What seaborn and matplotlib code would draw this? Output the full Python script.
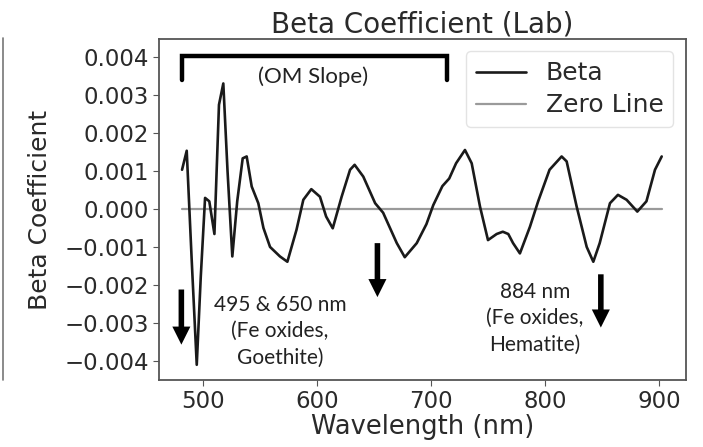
import matplotlib
matplotlib.use("Agg")
import matplotlib.pyplot as plt
from matplotlib.lines import Line2D
import seaborn as sns
import pandas as pd

wavelength = [481.6, 485.7, 490, 494.5, 498, 501.8, 505.5, 510, 514, 517.8, 521.5,
              525.7, 530, 534.8, 538.3, 542.7, 548.5, 553, 558.8, 567.5, 574, 582,
              588, 595, 602.6, 608, 613.8, 621.6, 629, 633, 640.6, 651, 658, 664,
              670, 677, 687.5, 696, 702, 710, 716, 722, 729.8, 735.7, 743, 750,
              757.6, 763, 767.8, 772, 778, 786.8, 794, 804, 814.6, 819, 827.8,
              836.6, 842.4, 848, 857, 864, 871.6, 881, 889, 896.5, 902.4]
beta = [0.00103, 0.00153, -0.0013, -0.0041, -0.0018, 0.00029, 0.00020, -0.00066,
        0.00274, 0.00330, 0.0010, -0.00125, 0.0002, 0.00133, 0.00138, 0.00059,
        0.00015, -0.0005, -0.0010, -0.00125, -0.00139, -0.00055, 0.00024, 0.00052,
        0.00032, -0.0002, -0.00051, 0.00032, 0.00103, 0.00116, 0.00085, 0.00015,
        -0.0001, -0.0005, -0.0009, -0.00127, -0.0009, -0.0004, 0.0001, 0.0006,
        0.0008, 0.0012, 0.00155, 0.0012, 0.00006, -0.00082, -0.00066, -0.0006,
        -0.00066, -0.0009, -0.00117, -0.00047, 0.0002, 0.00103, 0.00138, 0.00125,
        0.00006, -0.0010, -0.00139, -0.0009, 0.00015, 0.00037, 0.00024, -0.00007,
        0.0002, 0.00103, 0.00138]

series_names = ["Beta", "Zero Line"]
title = "Beta Coefficient (Lab)"
xlabel = "Wavelength (nm)"
ylabel = "Beta Coefficient"
xticks = [500, 600, 700, 800, 900]
yticks = [-0.004, -0.003, -0.002, -0.001, 0.0, 0.001, 0.002, 0.003, 0.004]

sns.set_style("ticks")
plt.rcParams["font.family"] = ["DejaVu Sans"]

fig = plt.figure(figsize=(7.03, 4.47), dpi=100)
ax = fig.add_axes([0.2262, 0.1499, 0.7496, 0.7629])

df = pd.DataFrame({"wl": wavelength, "beta": beta, "zero": [0.0] * len(wavelength)})
sns.lineplot(data=df, x="wl", y="zero", ax=ax, color="#9a9a9a", lw=1.6,
             label=series_names[1], zorder=2)
sns.lineplot(data=df, x="wl", y="beta", ax=ax, color="#1a1a1a", lw=1.9,
             label=series_names[0], zorder=3)

ax.set_xlim(461.4, 923.7)
ax.set_ylim(-0.0045, 0.00447)
ax.set_xticks(xticks)
ax.set_yticks(yticks)
ax.set_yticklabels([f"{v:.3f}".replace("-", "\u2212") for v in yticks])
ax.tick_params(labelsize=16.5, length=4, color="#555555", labelcolor="#2a2a2a", pad=3)
ax.set_title(title, fontsize=20, color="#2a2a2a", pad=4)
ax.set_xlabel(xlabel, fontsize=18.5, color="#2a2a2a", labelpad=1)
ax.set_ylabel(ylabel, fontsize=18, color="#2a2a2a", labelpad=9)
for s in ax.spines.values():
    s.set_color("#555555")
    s.set_linewidth(1.3)

h, l = ax.get_legend_handles_labels()
order = [l.index(n) for n in series_names]
leg = ax.legend([h[i] for i in order], [l[i] for i in order], loc="upper right",
                fontsize=18, frameon=True, handlelength=2.0, borderpad=0.4,
                labelspacing=0.32, handletextpad=0.8)
leg.get_frame().set_edgecolor("#dddddd")
for t in leg.get_texts():
    t.set_color("#2a2a2a")

# annotations
ann_font = ["Lato", "DejaVu Sans"]
ax.plot([481.8, 481.8, 713.8, 713.8], [0.0034, 0.00403, 0.00403, 0.0034],
        color="black", lw=3.2, solid_joinstyle="miter", zorder=4)
ax.text(596.5, 0.00348, "(OM Slope)", ha="center", va="center", fontsize=16,
        family=ann_font, color="#222222")

arrow_kw = dict(arrowstyle="simple,head_length=1.3,head_width=1.3,tail_width=0.4",
                fc="black", ec="none", lw=0, shrinkA=0, shrinkB=0, mutation_scale=10)
for x0, ytail, yhead in [(481.0, -0.00212, -0.00357), (653.0, -0.00090, -0.00232),
                         (849.0, -0.00172, -0.00312)]:
    ax.annotate("", xy=(x0, yhead), xytext=(x0, ytail), arrowprops=arrow_kw, zorder=5)

ax.text(567.5, -0.00322, "495 & 650 nm\n(Fe oxides,\nGoethite)", ha="center",
        va="center", fontsize=15, family=ann_font, color="#222222", linespacing=1.4)
ax.text(791.0, -0.00287, "884 nm\n(Fe oxides,\nHematite)", ha="center",
        va="center", fontsize=15, family=ann_font, color="#222222", linespacing=1.4)

# stray panel edge at left
fig.add_artist(Line2D([3 / 703, 3 / 703], [1 - 38 / 447, 1 - 380 / 447],
                      color="#777777", lw=1.2, transform=fig.transFigure))

fig.savefig("out.png", dpi=100)
